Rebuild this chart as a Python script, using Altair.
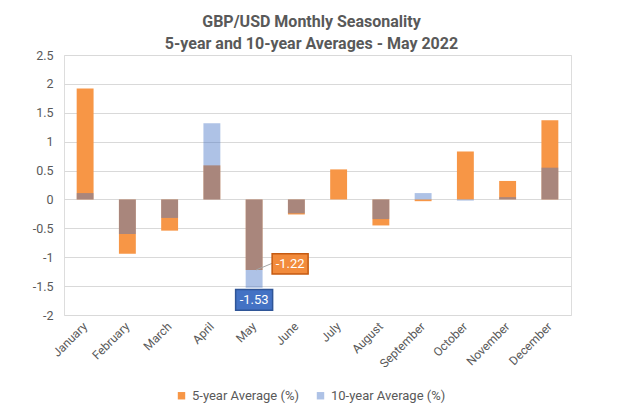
import altair as alt
import pandas as pd

months = ["January", "February", "March", "April", "May", "June", "July",
          "August", "September", "October", "November", "December"]
five_year = [1.92, -0.94, -0.54, 0.59, -1.22, -0.26, 0.52, -0.45, -0.03, 0.83, 0.32, 1.37]
ten_year = [0.11, -0.60, -0.32, 1.32, -1.53, -0.24, 0.00, -0.34, 0.11, -0.02, 0.04, 0.55]
series_names = ["5-year Average (%)", "10-year Average (%)"]
y_ticks = [-2, -1.5, -1, -0.5, 0, 0.5, 1, 1.5, 2, 2.5]
title_lines = ["GBP/USD Monthly Seasonality", "5-year and 10-year Averages - May 2022"]

rows = []
for name, vals in zip(series_names, [five_year, ten_year]):
    for m, v in zip(months, vals):
        rows.append({"month": m, "value": v, "series": name})
df = pd.DataFrame(rows)

lab5 = pd.DataFrame({"month": ["May"], "value": [five_year[4]], "label": ["-1.22"]})
lab10 = pd.DataFrame({"month": ["May"], "value": [ten_year[4]], "label": ["-1.53"]})

GRAY = "#595959"
FONT = "Roboto"

x_enc = alt.X("month:N", sort=months,
              scale=alt.Scale(paddingInner=0.6, paddingOuter=0.3),
              axis=alt.Axis(title=None, labelAngle=-45, labelAlign="right",
                            labelBaseline="middle", labelPadding=9,
                            labelFontSize=12, labelColor=GRAY, labelFont=FONT,
                            labelOverlap=False, ticks=False, domain=False, grid=False))
y_enc = alt.Y("value:Q", stack=None,
              scale=alt.Scale(domain=[-2, 2.5], nice=False, zero=False),
              axis=alt.Axis(title=None, values=y_ticks, labelExpr="'' + datum.value",
                            labelFontSize=12.5, labelColor=GRAY, labelFont=FONT,
                            labelOverlap=False, labelBound=False, labelFlush=False,
                            labelPadding=11, ticks=False, domain=False,
                            grid=True, gridColor="#D9D9D9", gridWidth=1))

leg = alt.Legend(title=None, orient="none", legendX=111, legendY=334,
                 direction="horizontal", symbolType="square", symbolSize=55,
                 symbolStrokeWidth=0, labelFont=FONT, labelFontSize=13,
                 labelColor=GRAY, columnPadding=15, labelOffset=4)

bars = alt.Chart(df).mark_bar().encode(
    x=x_enc,
    y=y_enc,
    color=alt.Color("series:N", sort=series_names,
                    scale=alt.Scale(domain=series_names, range=["#F79646", "#4472C4"]),
                    legend=leg),
    opacity=alt.Opacity("series:N", sort=series_names,
                        scale=alt.Scale(domain=series_names, range=[1.0, 0.43]),
                        legend=leg),
)

box_shape = "M-1,-0.56L1,-0.56L1,0.56L-1,0.56Z"

leader = alt.Chart(lab5).mark_rule(color="#A6A6A6", strokeWidth=1,
                                   xOffset=2, x2Offset=19, yOffset=0, y2Offset=-7).encode(
    x=x_enc, x2="month:N", y=y_enc, y2="value:Q")

box5 = alt.Chart(lab5).mark_point(shape=box_shape, size=1296, filled=True, opacity=1,
                                  fill="#F28B3C", stroke="#C55A11", strokeWidth=1.5,
                                  xOffset=36, yOffset=-6).encode(x=x_enc, y=y_enc)
text5 = alt.Chart(lab5).mark_text(color="white", font=FONT, fontSize=13,
                                  align="center", baseline="middle",
                                  xOffset=36, yOffset=-6).encode(
    x=x_enc, y=y_enc, text="label:N")

box10 = alt.Chart(lab10).mark_point(shape=box_shape, size=1369, filled=True, opacity=1,
                                    fill="#4472C4", stroke="#2F5597", strokeWidth=1.5,
                                    xOffset=0, yOffset=12).encode(x=x_enc, y=y_enc)
text10 = alt.Chart(lab10).mark_text(color="white", font=FONT, fontSize=13,
                                    align="center", baseline="middle",
                                    xOffset=0, yOffset=12).encode(
    x=x_enc, y=y_enc, text="label:N")

chart = alt.layer(bars, leader, box5, text5, box10, text10).properties(
    width=507, height=260,
    title=alt.TitleParams(text=title_lines, font=FONT, fontSize=16, fontWeight="bold",
                          color=GRAY, anchor="middle", offset=-3, dx=-6, lineHeight=22),
    autosize=alt.AutoSizeParams(type="none"),
    padding={"left": 56, "top": 47, "right": 45, "bottom": 92},
).configure_view(stroke=None).configure(background="white")

chart.save("out.html", embed_options={"renderer": "svg", "actions": False})
